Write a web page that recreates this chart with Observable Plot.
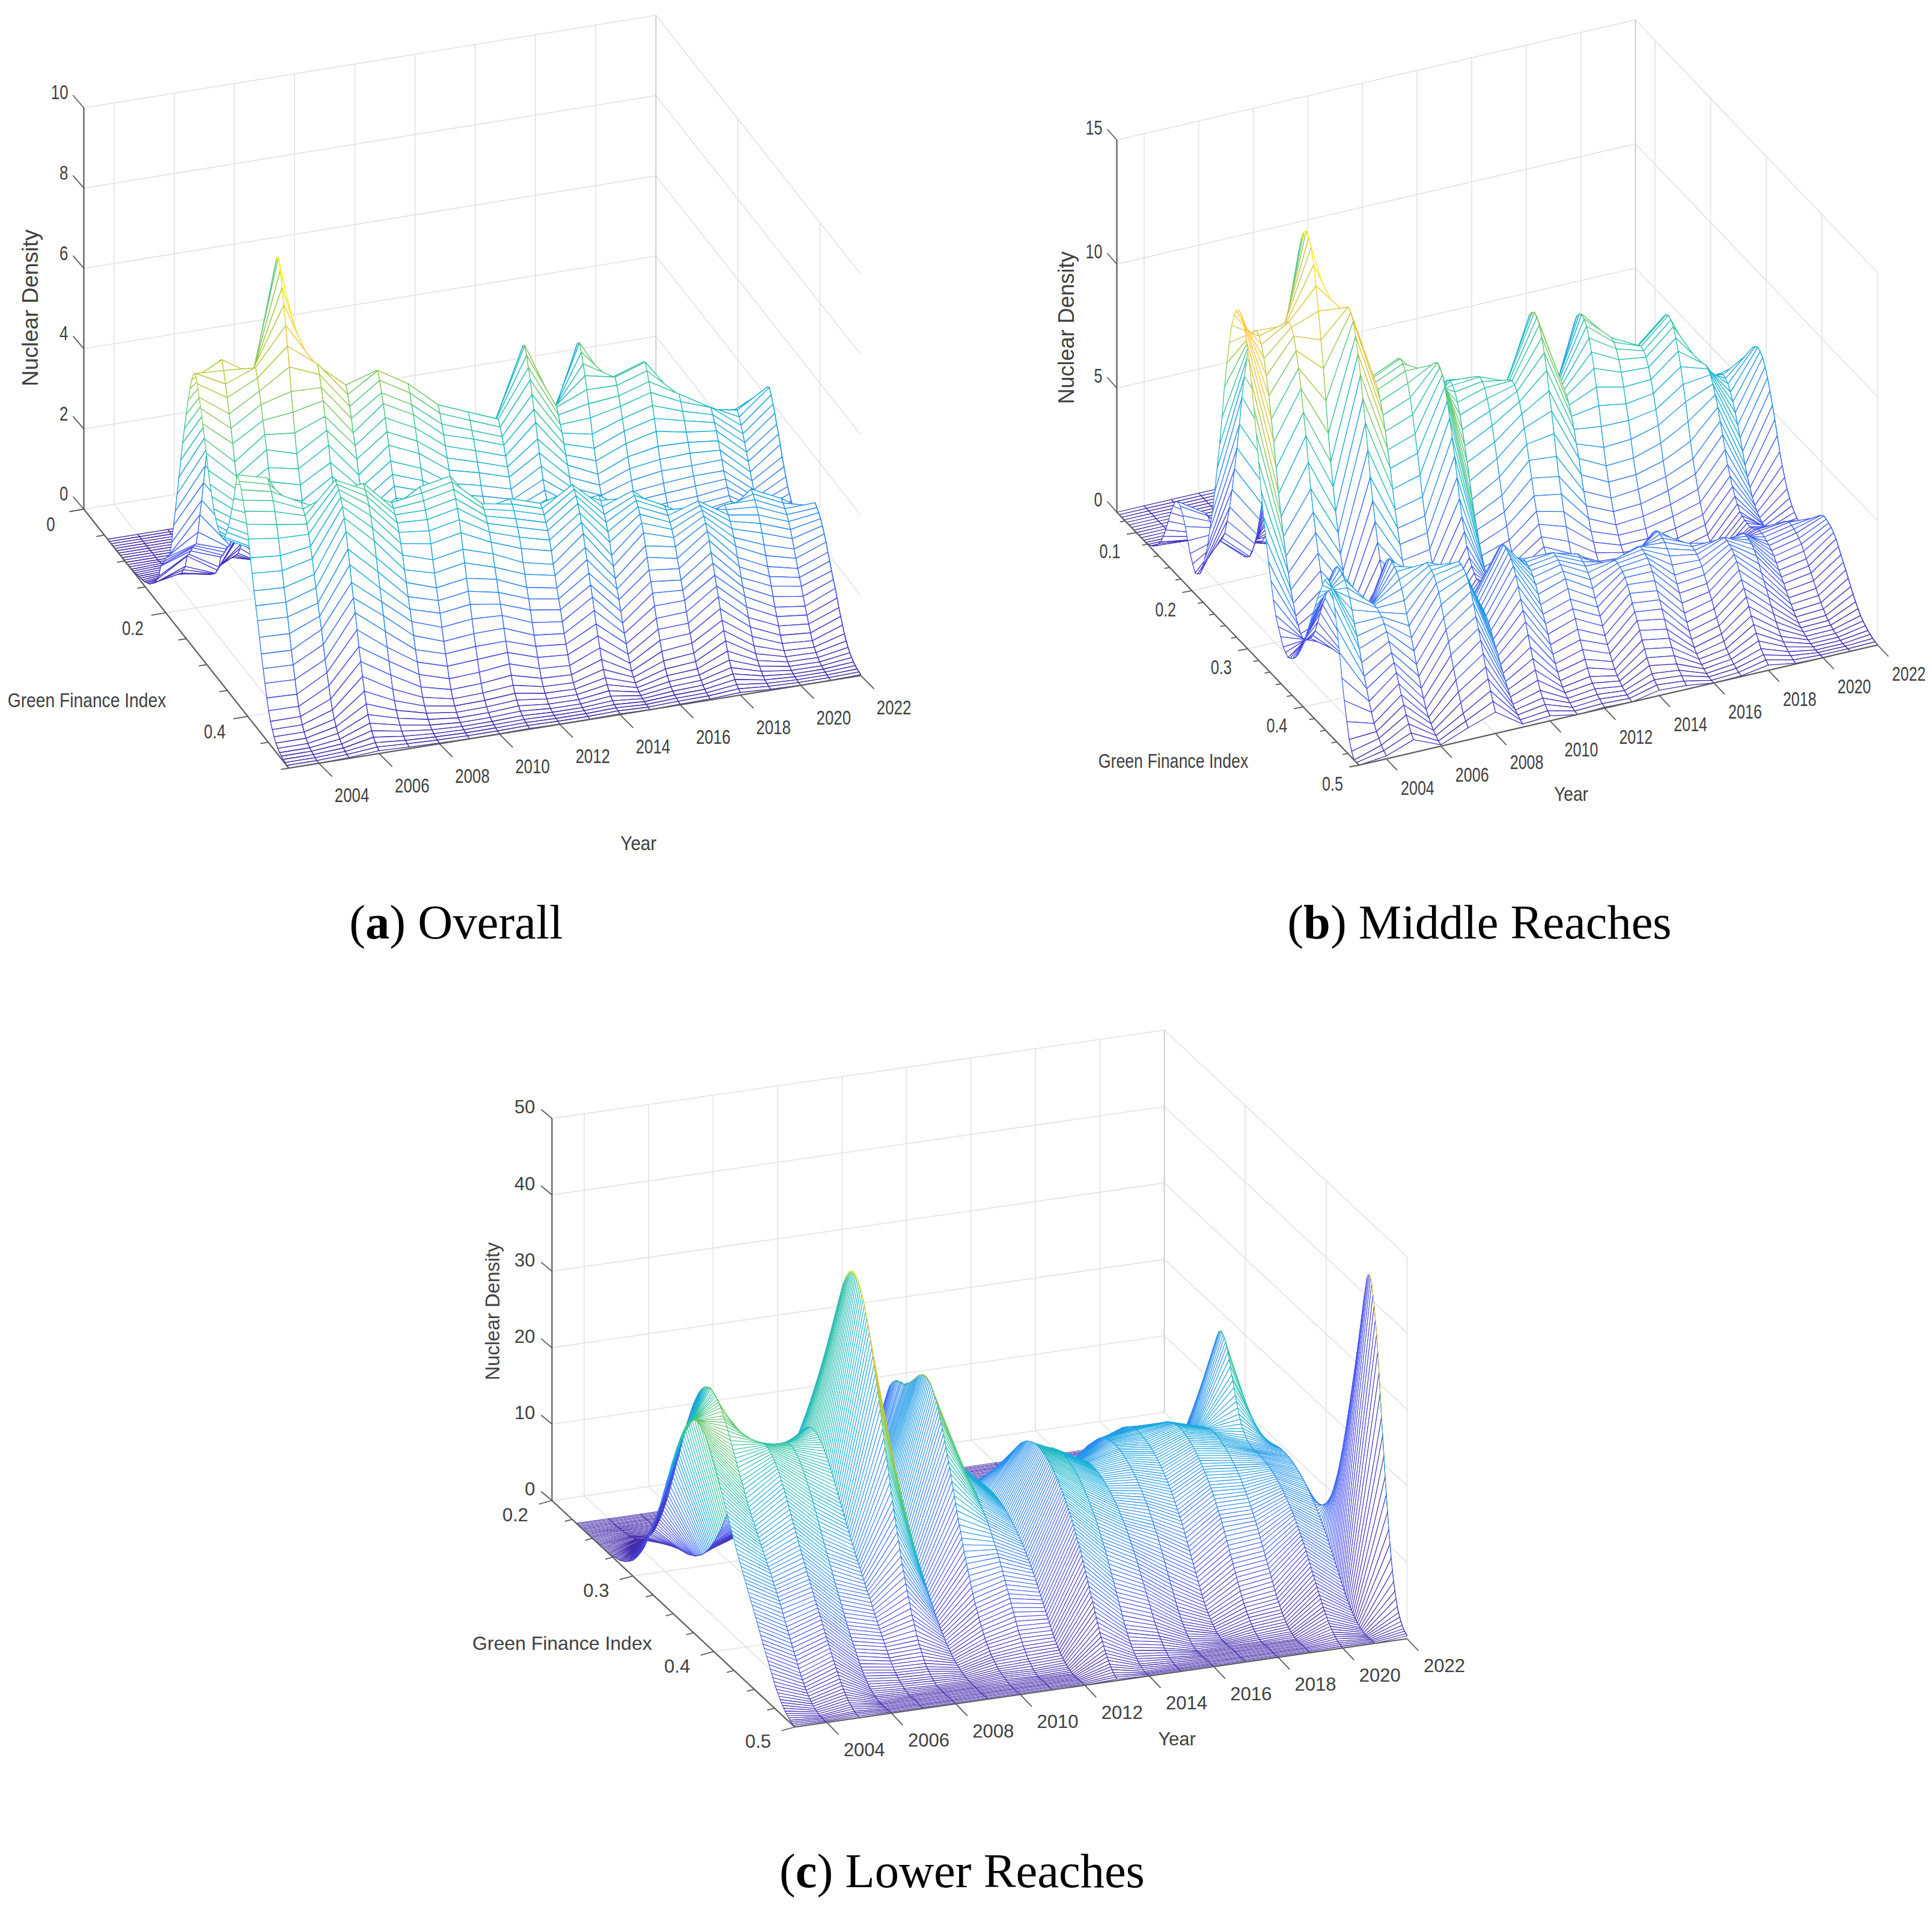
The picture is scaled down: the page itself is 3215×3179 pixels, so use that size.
<!DOCTYPE html>
<html><head><meta charset="utf-8">
<script src="https://cdn.jsdelivr.net/npm/d3@7"></script>
<script src="https://cdn.jsdelivr.net/npm/@observablehq/plot@0.6"></script>
<style>
html,body{margin:0;background:#fff;overflow:hidden}
#page{position:relative;width:3215px;height:3179px}
.cap{position:absolute;transform:translateX(-50%);font-family:"Liberation Serif",serif;font-size:80.5px;color:#000;white-space:nowrap;line-height:1}
</style></head><body><div id="page"></div>
<script>
// ---- shared values ----
const years = [2003,2004,2005,2006,2007,2008,2009,2010,2011,2012,2013,2014,2015,2016,2017,2018,2019,2020,2021,2022];
const yearTicks = [2004,2006,2008,2010,2012,2014,2016,2018,2020,2022];
const zeros = n => Array(n).fill(0);

// ---- (a) Overall: ridge heights per year, ridge profile per grid row ----
const aBackHeight = [6.9,7.0,6.8,9.2,6.7,6.0,6.3,5.85,5.2,4.9,4.6,6.2,4.6,5.85,5.05,5.3,4.5,4.1,3.8,4.3];
const aFrontHeight = [4.9,4.9,4.3,5.2,4.6,4.0,4.0,4.2,3.6,3.5,3.3,3.8,3.2,3.6,3.1,3.3,2.8,2.8,2.6,2.5];
const aBackShift = [0,-2,0,-4,1,0,1,1,1,1,1,-1,0,-4,-1,-1,1,2,0,1];
const aFrontShift = [0,0,2,4,3,2,1,1,2,1,1,2,0,2,3,5,3,1,1,3];
const aBackProfile = [...zeros(14),.002,.004,.006,.008,.01,.012,
 .015,.02,.025,.03,.04,.05,.06,.08,.1,.145, .16,.18,.2,.215,.23,.28,.35,.41,.48,.55,
 .62,.69,.75,.81,.87,.92,.96,.99,1,.97, .93,.89,.84,.79,.74,.68,.63,.58,.53,.49,
 .45,.41,.37,.33,.3,.27,.24,.21,.18,.155, .13,.115,.1,.085,.07,.06,.05,.04,.03,.025,
 .02,.017,.014,.012,.01,.008,.006,.004,.002,0];
const aFrontProfile = [...zeros(50),
 0,.01,.015,.02,.03,.04,.05,.07,.09,.11, .14,.18,.23,.28,.34,.42,.5,.6,.7,.8,
 .92,1,1,.99,.97,.94,.9,.85,.78,.72, .65,.59,.53,.46,.39,.33,.27,.21,.16,.12,
 .09,.065,.045,.03,.02,.014,.009,.005,.002,0];

// ---- (b) Middle Reaches ----
const bBackHeight = [13.3,11.8,12.1,15.1,12.4,9.2,9.7,9.7,8.1,8.1,7.9,10.2,7.0,9.3,8.2,7.7,8.7,6.85,5.8,6.95];
const bFrontHeight = [0,5.7,4.3,5.4,5.4,5.4,3.2,5.1,4.0,4.1,3.65,3.6,3.8,3.75,3.2,3.5,3.1,2.3,2.6,2.9];
const bNearHeight = [6.2,0,0,0,0,0,0,0,0,0,0,0,0,0,0,0,0,0,0,0];
const bSmallHeight = [3,2.2,1,.3,.1,0,0,0,0,0,0,0,0,0,0,0,0,0,0,0];
const bBackShift = [2,-2,0,-4,2,1,1,5,-1,0,2,0,0,-3,-2,-1,-1,3,-1,2];
const bFrontShift = [0,1,5,0,4,6,2,2,-1,0,-1,3,2,-2,0,3,0,-4,-4,-1];
const bNearShift = [-2,0,0,0,0,0,0,0,0,0,0,0,0,0,0,0,0,0,0,0];
const bSmallShift = zeros(20);
const bBackProfile = [...zeros(25),.002,.004,.007,.012,.02, .03,.05,.07,.1,.14,.18,.24,.3,.37,.45,
 .53,.62,.72,.8,.87,.93,.97,.99,1,.99, .97,.93,.88,.82,.75,.68,.6,.52,.45,.39,
 .33,.28,.23,.19,.15,.12,.09,.07,.05,.04, .03,.02,.015,.01,.007,.005,.003,.002,.001,0];
const bFrontProfile = [...zeros(52),.001,.002,.003,.004,.006,.008,.01,.015, .02,.03,.045,.065,.09,.14,.18,.23,.29,.35,
 .44,.53,.61,.68,.77,.85,.92,.97,1,.995, .98,.96,.92,.87,.8,.72,.65,.58,.5,.42,
 .35,.28,.22,.16,.12,.09,.06,.04,.02,.01];
const bNearProfile = [...zeros(68),.03,.045, .06,.085,.11,.145,.18,.225,.27,.325,.38,.45,
 .52,.59,.66,.73,.8,.86,.92,.97,1,.99, .95,.86,.74,.6,.45,.32,.2,.1,.04,0];
const bSmallProfile = [...zeros(12),.005,.015,.03,.06,.1,.16,.22,.33,
 .45,.6,.75,.87,.97,1,.97,.87,.75,.58, .42,.28,.15,.08,.03,.01];

// ---- (c) Lower Reaches ----
const cWideHeight = [15,16,13,12,12,14,6,6,18,14,21,18.5,16,17,17,18,17,15,14,5];
const cWideShift = [0,-6,0,-10,-12,-16,-16,-12,-12,-10,2,-4,-6,-14,-20,-14,-12,0,-8,-28];
const cBellHeight = [14.5,18,12,11,12,30,10,24,0,0,0,0,0,0,0,0,0,0,0,0];
const cBellShift = [14,-4,18,14,4,15,17,22,0,0,0,0,0,0,0,0,0,0,0,0];
const cSpikeHeight = [0,0,0,0,0,0,0,12,0,0,0,0,0,0,0,0,0,18,7,43];
const cSpikeShift = [0,0,0,0,0,0,0,-10,0,0,0,0,0,0,0,0,0,-2,-18,68];
const cWideProfile = [...zeros(50),.003,.004,.006,.008,.01,.012,.014,.017,.02,.025,
 .03,.035,.04,.045,.05,.057,.065,.072,.08,.09, .1,.11,.12,.132,.145,.157,.17,.185,.2,.215,
 .23,.245,.26,.275,.29,.307,.325,.342,.36,.38, .4,.42,.44,.46,.48,.5,.52,.54,.56,.58,
 .6,.62,.64,.66,.68,.7,.72,.74,.76,.78, .8,.815,.83,.845,.86,.875,.89,.905,.92,.93,
 .94,.95,.96,.968,.975,.98,.985,.99,.995,.998, 1,1,1,1,.998,.995,.993,.99,.985,.98,
 .975,.97,.963,.955,.948,.94,.93,.92,.91,.9, .888,.875,.862,.85,.835,.82,.805,.79,.775,.76,
 .74,.72,.7,.68,.66,.64,.62,.6,.575,.55, .525,.5,.475,.45,.425,.4,.375,.35,.325,.3,
 .275,.25,.225,.2,.18,.16,.14,.12,.105,.09, .075,.06,.05,.04,.03,.02,.015,.01,.005,0];
const cBellProfile = [...zeros(31),.001,.002,.004,.006,.008,.01,.011,.013,.014,.015,.017,.02,.025,.03,.032,.035,.04,.045,.052,.06,.065,.07,.08,.09,.1,.11,.122,.135,.147,.16,.175,.19,.21,.23,.25,.27,.29,.31,.335,.36,.385,.41,.435,.46,.49,.52,.55,.58,.61,.64,.665,.69,.72,.75,.775,.8,.825,.85,.87,.89,.91,.93,.945,.96,.97,.98,.99,.995,.999,
 1,.999,.995,.99,.98,.97,.96,.945,.93,.91,.89,.87,.85,.825,.8,.775,.75,.72,.69,.665,.64,.61,.58,.55,.52,.49,.46,.435,.41,.385,.36,.335,.31,.29,.27,.25,.23,.21,.19,.175,.16,.147,.135,.122,.11,.1,.09,.08,.07,.065,.06,.052,.045,.04,.035,.032,.03,.025,.02,.017,.015,.014,.013,.011,.01,.008,.006,.004,.002,.001];
const cSpikeProfile = [...zeros(63),.001,.002,.003,.004,.005,.007,.009,.012,.016,.02,.027,.035,.045,.055,.07,.09,.11,.135,.165,.2,.24,.28,.33,.38,.43,.49,.55,.6,.67,.73,.79,.84,.88,.92,.95,.98,.995,
 1,.995,.98,.95,.92,.88,.84,.79,.73,.67,.6,.55,.49,.43,.38,.33,.28,.24,.2,.165,.135,.11,.09,.07,.055,.045,.035,.027,.02,.016,.012,.009,.007,.005,.004,.003,.002,.001];

// ---- tick values ----
const aIndexMajor = [0,.2,.4], aIndexMinor = [.05,.1,.15,.25,.3,.35,.45,.5];
const bIndexMajor = [.1,.2,.3,.4,.5], bIndexMinor = [.08,.12,.14,.16,.18,.22,.24,.26,.28,.32,.34,.36,.38,.42,.44,.46,.48];
const cIndexMajor = [.2,.3,.4,.5], cIndexMinor = [.225,.25,.275,.325,.35,.375,.425,.45,.475];
const aDensityTicks = [0,2,4,6,8,10], bDensityTicks = [0,5,10,15], cDensityTicks = [0,10,20,30,40,50];

// parula colour ramp
const rampStops = [0,1/7,2/7,3/7,4/7,5/7,6/7,1];
const rampColors = ["#3e26a8","#4752f4","#2d87f7","#11b1d6","#37c897","#abc739","#fec338","#f9fb15"];

// ---- panel geometry (orthographic view box, screen pixels) ----
const panels = [
 {name:"a", o:[139,847], a:[480,1278], b:[1432,1124], zPx:66.8, zMax:10, i0:0, i1:.5, rowStart:.058, firstRow:0, rowCount:100, lw:1.35,
  parts:[[aBackHeight,aBackShift,aBackProfile],[aFrontHeight,aFrontShift,aFrontProfile]],
  major:aIndexMajor, minor:aIndexMinor, dens:aDensityTicks,
  yTick:[22,22], iTick:[-24,4], zTick:[-18,-21], yLab:[55,54], iLab:[-55,26], zLab:[-26,-25],
  fs:34, squeeze:{tick:.76,gfi:.83,yr:.87}, ndFs:37,
  nd:[51,512], gfi:[144,1166,34], yr:[1062,1404,34]},
 {name:"b", o:[1858,852], a:[2261,1273], b:[3124,1073], zPx:41.3, zMax:15, i0:.065, i1:.5, rowStart:.065, firstRow:0, rowCount:100, lw:1.25,
  parts:[[bSmallHeight,bSmallShift,bSmallProfile],[bBackHeight,bBackShift,bBackProfile],[bFrontHeight,bFrontShift,bFrontProfile],[bNearHeight,bNearShift,bNearProfile]],
  major:bIndexMajor, minor:bIndexMinor, dens:bDensityTicks,
  yTick:[18,19], iTick:[-16,3], zTick:[-16,-18], yLab:[52,49], iLab:[-44,32], zLab:[-24,-20],
  fs:33, squeeze:{tick:.76,gfi:.81,yr:.85}, ndFs:36,
  nd:[1775,545], gfi:[1952,1267,33], yr:[2614,1322,33]},
 {name:"c", o:[918,2497], a:[1322,2874], b:[2341,2727], zPx:12.72, zMax:50, i0:.2, i1:.5, rowStart:.2, firstRow:20, rowCount:200, lw:1.05,
  parts:[[cWideHeight,cWideShift,cWideProfile],[cBellHeight,cBellShift,cBellProfile],[cSpikeHeight,cSpikeShift,cSpikeProfile]],
  major:cIndexMajor, minor:cIndexMinor, dens:cDensityTicks,
  yTick:[19,20], iTick:[-22,6], zTick:[-18,-15], yLab:[62,46], iLab:[-61,25], zLab:[-28,-18],
  fs:31, squeeze:null, ndFs:32.5,
  nd:[820,2182], gfi:[935,2735,32], yr:[1958,2895,31]}
];

const y0 = years[0], y1 = years[years.length-1];

function projector(p){
  const yv=[p.b[0]-p.a[0],p.b[1]-p.a[1]], iv=[p.a[0]-p.o[0],p.a[1]-p.o[1]];
  return (year,index,z)=>{
    const ty=(year-y0)/(y1-y0), ti=(index-p.i0)/(p.i1-p.i0);
    return [p.o[0]+ty*yv[0]+ti*iv[0], p.o[1]+ty*yv[1]+ti*iv[1]-z*p.zPx];
  };
}

function panelMarks(p){
  const P=projector(p), N=p.rowCount, rowIndex=d3.range(N).map(r=>p.rowStart+(p.i1-p.rowStart)*r/(N-1));
  const density=(yi,r)=>d3.sum(p.parts,([h,s,prof])=>h[yi]*(prof[r-s[yi]]??0));
  const table=years.map((_,yi)=>d3.range(N).map(r=>density(yi,r)));
  const zTop=d3.max(table,row=>d3.max(row));
  const last=years.length-1;
  // far rows first so white faces hide what is behind; each cell takes the colour of its first corner
  const quads=[]; let q=0;
  for(let r=p.firstRow;r<N-1;r++){
    for(let yi=0;yi<last;yi++){
      const corners=[[yi,r],[yi+1,r],[yi+1,r+1],[yi,r+1],[yi,r]];
      const c=table[yi][r]/zTop;
      q++;
      for(const [a,b] of corners){const [x,y]=P(years[a],rowIndex[b],table[a][b]);quads.push({x,y,q,c});}
    }
    // the last year's own edge
    q++;
    for(const b of [r,r+1]){const [x,y]=P(years[last],rowIndex[b],table[last][b]);quads.push({x,y,q,c:table[last][r]/zTop});}
  }
  const seg=(A,B)=>({x1:A[0],y1:A[1],x2:B[0],y2:B[1]});
  const grid=[];
  for(const yr of yearTicks){grid.push(seg(P(yr,p.i0,0),P(yr,p.i0,p.zMax)));grid.push(seg(P(yr,p.i0,0),P(yr,p.i1,0)));}
  for(const i of p.major){grid.push(seg(P(y0,i,0),P(y1,i,0)));if(i>p.i0)grid.push(seg(P(y1,i,0),P(y1,i,p.zMax)));}
  for(const z of p.dens){if(z>0){grid.push(seg(P(y0,p.i0,z),P(y1,p.i0,z)));grid.push(seg(P(y1,p.i0,z),P(y1,p.i1,z)));}}
  const corner=[seg(P(y1,p.i0,0),P(y1,p.i0,p.zMax))];
  const axes=[seg(P(y0,p.i0,0),P(y0,p.i0,p.zMax)),seg(P(y0,p.i0,0),P(y0,p.i1,0)),seg(P(y0,p.i1,0),P(y1,p.i1,0))];
  const ticks=[];
  const shifted=(A,v,k=1)=>seg(A,[A[0]+v[0]*k,A[1]+v[1]*k]);
  for(const yr of yearTicks)ticks.push(shifted(P(yr,p.i1,0),p.yTick));
  for(const i of p.major)ticks.push(shifted(P(y0,i,0),p.iTick));
  for(const i of p.minor)ticks.push(shifted(P(y0,i,0),p.iTick,.55));
  for(const z of p.dens)ticks.push(shifted(P(y0,p.i0,z),p.zTick));
  const lab=(A,v,t)=>({x:A[0]+v[0],y:A[1]+v[1],t});
  const yLabels=yearTicks.map(yr=>lab(P(yr,p.i1,0),p.yLab,String(yr)));
  const iLabels=p.major.map(i=>lab(P(y0,i,0),p.iLab,String(i)));
  const zLabels=p.dens.map(z=>lab(P(y0,p.i0,z),p.zLab,String(z)));
  const txt=(data,o={})=>Plot.text(data,{x:"x",y:"y",text:"t",fontFamily:"Liberation Sans, sans-serif",fontSize:p.fs,fill:"#404040",...o});
  const link=(data,stroke,w)=>Plot.link(data,{x1:"x1",y1:"y1",x2:"x2",y2:"y2",stroke,strokeWidth:w});
  return [
    link(grid,"#e2e2e2",1.6),
    link(corner,"#c8c8c8",1.6),
    Plot.line(quads,{x:"x",y:"y",z:"q",stroke:"c",fill:"white",strokeWidth:p.lw,strokeLinejoin:"round"}),
    link(axes,"#5a5a5a",2.2),
    link(ticks,"#5a5a5a",1.8),
    txt(yLabels),txt(iLabels),txt(zLabels,{textAnchor:"end"}),
    txt([{x:p.nd[0],y:p.nd[1],t:"Nuclear Density"}],{rotate:-90,fontSize:p.ndFs}),
    txt([{x:p.gfi[0],y:p.gfi[1],t:"Green Finance Index"}],{fontSize:p.gfi[2]}),
    txt([{x:p.yr[0],y:p.yr[1],t:"Year"}],{fontSize:p.yr[2]})
  ];
}

const chart=Plot.plot({
  width:3215,height:3179,margin:0,
  x:{domain:[0,3215],range:[0,3215],axis:null},
  y:{domain:[0,3179],range:[0,3179],axis:null},
  color:{type:"linear",domain:rampStops,range:rampColors,clamp:true},
  style:{background:"white"},
  marks:panels.flatMap(panelMarks)
});
const page=document.getElementById("page");
page.appendChild(chart);

// panels (a) and (b) use condensed lettering in the reference
chart.querySelectorAll("text").forEach(t=>{
  const s=t.textContent.trim(), box=t.getBoundingClientRect();
  if(s==="Nuclear Density"||box.top>1500) return;
  const p=panels[box.left+box.width/2<1700?0:1];
  const f=s==="Green Finance Index"?p.squeeze.gfi:s==="Year"?p.squeeze.yr:p.squeeze.tick;
  t.setAttribute("textLength",t.getComputedTextLength()*f);
  t.setAttribute("lengthAdjust","spacingAndGlyphs");
});

const captions=[["a","Overall",759,1495],["b","Middle Reaches",2462,1495],["c","Lower Reaches",1601,3074]];
for(const [k,t,x,y] of captions){
  const d=document.createElement("div");d.className="cap";d.style.left=x+"px";d.style.top=y+"px";
  d.innerHTML="(<b>"+k+"</b>) "+t;page.appendChild(d);
}
</script></body></html>
